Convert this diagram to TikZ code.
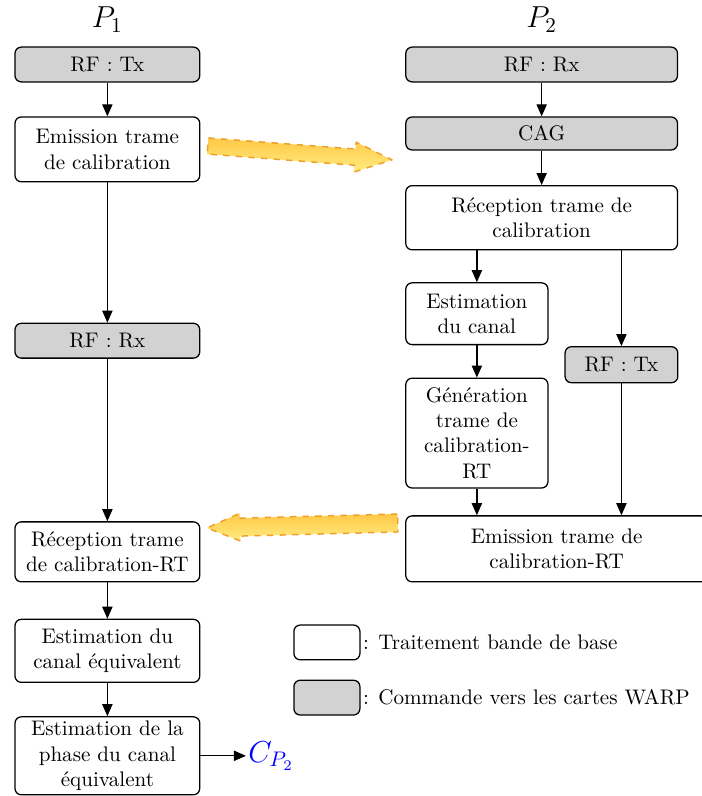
\documentclass[tikz,border=0pt]{standalone}
\usepackage{amsmath,amssymb}
\usepackage{xcolor}
\usepackage{tikz}
\usetikzlibrary{positioning, arrows.meta, calc}
\definecolor{BoxGray}{RGB}{210,210,210}
\definecolor{FlowTop}{RGB}{255,200,70}
\definecolor{FlowBot}{RGB}{255,236,130}
\definecolor{FlowEdge}{RGB}{240,160,40}
\tikzset{
  blk/.style={draw=black, line width=0.6pt, rounded corners=3pt, align=center,
    inner sep=2pt, fill=white},
  cmd/.style={blk, fill=BoxGray},
  wide/.style={minimum width=3.08cm},
  wider/.style={minimum width=4.53cm},
  flow/.style={-{Triangle[length=2mm,width=1.7mm]}, line width=0.6pt},
  bigarr/.style={top color=FlowTop, bottom color=FlowBot, draw=FlowEdge,
    dashed, line width=0.7pt, line join=round},
  legtxt/.style={anchor=west, inner sep=1pt},
}
\begin{document}
\begin{tikzpicture}
  \useasboundingbox (0,0) rectangle (11.7,-13.27);
  % headers
  \node (hA) at (1.79,-0.33) {\Large $P_1$};
  \node (hB) at (9.03,-0.33) {\Large $P_2$};
  % P1 side
  \node[cmd, wide, minimum height=0.58cm] (txA) at (1.79,-1.075) {RF : Tx};
  \node[blk, wide, minimum height=1.08cm] (emA) at (1.79,-2.49) {Emission trame\\de calibration};
  \node[cmd, wide, minimum height=0.58cm] (rxA) at (1.79,-5.68) {RF : Rx};
  \node[blk, wide, minimum height=1.0cm] (recA) at (1.79,-9.2) {Réception trame\\de calibration-RT};
  \node[blk, wide, minimum height=1.05cm] (estA) at (1.79,-10.85) {Estimation du\\canal équivalent};
  \node[blk, wide, minimum height=1.3cm] (phA) at (1.79,-12.6) {Estimation de la\\phase du canal\\équivalent};
  \node[anchor=west, text=blue, inner sep=1pt] (cp) at (4.1,-12.6) {\Large $C_{P_2}$};
  % P2 side
  \node[cmd, wider, minimum height=0.58cm] (rxB) at (9.03,-1.075) {RF : Rx};
  \node[cmd, wider, minimum height=0.55cm] (cag) at (9.03,-2.225) {CAG};
  \node[blk, wider, minimum height=1.07cm] (recB) at (9.03,-3.63) {Réception trame de\\calibration};
  \node[blk, minimum width=2.37cm, minimum height=1.03cm] (estB) at (7.95,-5.23) {Estimation\\du canal};
  \node[cmd, minimum width=1.88cm, minimum height=0.6cm] (txB) at (10.36,-6.08) {RF : Tx};
  \node[blk, minimum width=2.37cm, minimum height=1.83cm] (genB) at (7.95,-7.22) {Génération\\trame de\\calibration-\\RT};
  \node[blk, minimum width=5.03cm, minimum height=1.1cm] (emB) at (9.28,-9.15) {Emission trame de\\calibration-RT};
  % legend
  \node[blk, minimum width=1.1cm, minimum height=0.58cm] (legW) at (5.45,-10.71) {};
  \node[legtxt] (legWt) at (legW.east) {: Traitement bande de base};
  \node[cmd, minimum width=1.1cm, minimum height=0.58cm] (legG) at (5.45,-11.63) {};
  \node[legtxt] (legGt) at (legG.east) {: Commande vers les cartes WARP};
  % connectors
  \draw[flow] (txA) -- (emA);
  \draw[flow] (emA) -- (rxA);
  \draw[flow] (rxA) -- (recA);
  \draw[flow] (recA) -- (estA);
  \draw[flow] (estA) -- (phA);
  \draw[flow] (phA) -- (cp);
  \draw[flow] (rxB) -- (cag);
  \draw[flow] (cag) -- (recB);
  \draw[flow] (recB.south -| estB) -- (estB);
  \draw[flow] (recB.south -| txB) -- (txB);
  \draw[flow] (estB) -- (genB);
  \draw[flow] (genB) -- (genB |- emB.north);
  \draw[flow] (txB) -- (txB |- emB.north);
  % transfer arrows
  \begin{scope}[shift={(5.0,-2.55)}, rotate=-4.3]
    \draw[bigarr] (-1.54,0.135) -- (0.92,0.135) -- (0.92,0.25) -- (1.54,0)
      -- (0.92,-0.25) -- (0.92,-0.135) -- (-1.54,-0.135) -- cycle;
  \end{scope}
  \begin{scope}[shift={(5.04,-8.76)}, rotate=1.5]
    \draw[bigarr] (1.59,0.15) -- (-1.04,0.15) -- (-1.04,0.23) -- (-1.59,0)
      -- (-1.04,-0.23) -- (-1.04,-0.15) -- (1.59,-0.15) -- cycle;
  \end{scope}
\end{tikzpicture}
\end{document}
